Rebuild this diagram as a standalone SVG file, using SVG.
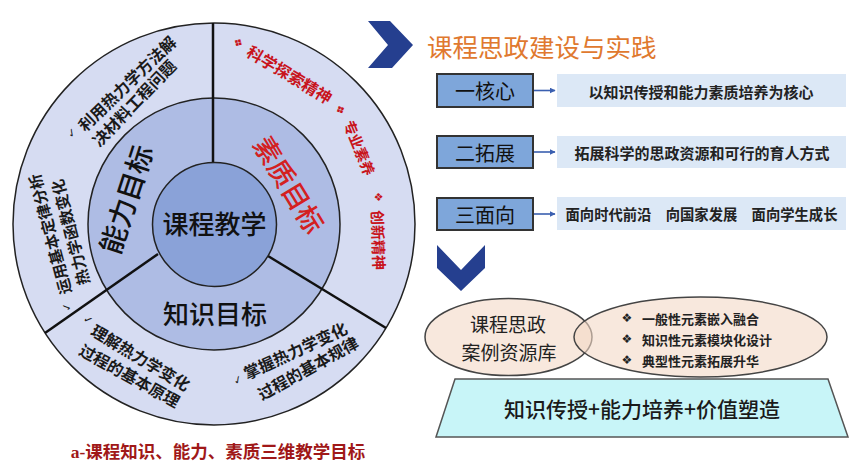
<svg xmlns="http://www.w3.org/2000/svg" width="866" height="473" viewBox="0 0 866 473">
<style>
.cjk{font-family:"Noto Sans CJK SC","Noto Sans",sans-serif;}
.big{font-size:27px;font-weight:500;fill:#111;text-anchor:middle;dominant-baseline:central;}
.ring{font-size:15.5px;font-weight:700;fill:#1a1a1a;text-anchor:middle;dominant-baseline:central;}
.red{font-size:15px;font-weight:700;fill:#c8141c;text-anchor:middle;dominant-baseline:central;}
.chk{font-family:"DejaVu Sans",sans-serif;font-size:11px;fill:#222;text-anchor:middle;dominant-baseline:central;}
.orn{font-family:"DejaVu Sans",sans-serif;font-size:11px;fill:#c8141c;text-anchor:middle;dominant-baseline:central;}
.lbox{fill:#7ea6da;stroke:#333;stroke-width:2;}
.rbox{fill:#dce8f6;}
.ltxt{font-size:20px;fill:#111;text-anchor:middle;dominant-baseline:central;}
.rtxt{font-size:15px;font-weight:700;fill:#222;text-anchor:middle;dominant-baseline:central;}
.ell{fill:#f4d8c6;fill-opacity:0.6;stroke:#444;stroke-width:1.5;}
.blt{font-size:13px;font-weight:700;fill:#222;dominant-baseline:central;}
.conn{stroke:#3a5fb0;stroke-width:1.6;fill:none;marker-end:url(#ah);}
</style>
<defs>
<marker id="ah" viewBox="0 0 10 10" refX="9" refY="5" markerWidth="6" markerHeight="6" orient="auto" markerUnits="userSpaceOnUse"><path d="M0,0 L10,5 L0,10 z" fill="#3a5fb0"/></marker>
</defs>
<rect width="866" height="473" fill="#ffffff"/>

<g id="goal-wheel">
<circle cx="214" cy="224" r="201" fill="#d6dcf2" stroke="#222" stroke-width="1.5"/>
<circle cx="214" cy="224" r="126" fill="#aebce4" stroke="#222" stroke-width="1.5"/>
<g id="dividers" stroke="#111" stroke-width="2.5">
<line x1="213" y1="23" x2="213" y2="163"/>
<line x1="158" y1="254" x2="45" y2="333"/>
<line x1="268" y1="256" x2="386" y2="328"/>
</g>
<circle cx="214.5" cy="224.5" r="62" fill="#8aa2d8" stroke="#222" stroke-width="1.5"/>
</g>

<g id="core"><text class="cjk big" x="214.5" y="222" style="font-size:26px">课程教学</text></g>
<g id="ability"><text class="cjk big" transform="translate(125,199) rotate(-72)" style="font-size:28px">能力目标</text></g>
<g id="quality"><text class="cjk big" transform="translate(290,184) rotate(58.6)" style="font-size:27px;fill:#d42020">素质目标</text></g>
<g id="knowledge"><text class="cjk big" x="215" y="312" style="font-size:26px">知识目标</text></g>

<g id="ability-items">
<text class="chk" transform="translate(72,133) rotate(-45)">✓</text>
<text class="cjk ring" transform="translate(126.5,83) rotate(-44)" style="font-size:16px">利用热力学方法解</text>
<text class="cjk ring" transform="translate(133.5,102.5) rotate(-46)" style="font-size:16px">决材料工程问题</text>
<text class="chk" transform="translate(67,307) rotate(-105)">✓</text>
<text class="cjk ring" transform="translate(49,234.5) rotate(-105)">运用基本定律分析</text>
<text class="cjk ring" transform="translate(69.5,232.5) rotate(-104.7)">热力学函数变化</text>
</g>

<g id="knowledge-items">
<text class="chk" transform="translate(88,320) rotate(30)">✓</text>
<text class="cjk ring" transform="translate(141,357) rotate(31)" style="font-size:16px">理解热力学变化</text>
<text class="cjk ring" transform="translate(130,375) rotate(29)" style="font-size:16px">过程的基本原理</text>
<text class="chk" transform="translate(238,380) rotate(-27)">✓</text>
<text class="cjk ring" transform="translate(295,350) rotate(-25)" style="font-size:16px">掌握热力学变化</text>
<text class="cjk ring" transform="translate(307.5,367.5) rotate(-29)" style="font-size:16px">过程的基本规律</text>
</g>

<g id="quality-items">
<text class="orn" transform="translate(238,43) rotate(31)">❖</text>
<text class="cjk red" transform="translate(290,74) rotate(31)" style="font-size:16px">科学探索精神</text>
<text class="orn" transform="translate(340,110) rotate(64)">❖</text>
<text class="cjk red" transform="translate(360,147.5) rotate(67.7)" style="font-size:14.5px">专业素养</text>
<text class="orn" transform="translate(378,197) rotate(86)">❖</text>
<text class="cjk red" transform="translate(379,240) rotate(88)">创新精神</text>
</g>

<g id="caption"><text x="218" y="452" text-anchor="middle" dominant-baseline="central" fill="#a01818" font-weight="700" font-size="17.5" font-family="'Liberation Serif','Noto Sans CJK SC',serif">a-课程知识、能力、素质三维教学目标</text></g>

<g id="chevron-right"><polygon points="368,21 390,21 413,45 392,68 368,68 388,45" fill="#253f8f"/></g>
<g id="title"><text class="cjk" x="427" y="45" dominant-baseline="central" font-size="25.5" fill="#e0792f">课程思政建设与实践</text></g>

<g id="node-core">
<rect class="lbox" x="437" y="74" width="96" height="33"/>
<text class="cjk ltxt" x="485" y="90.5">一核心</text>
</g>
<g id="desc-core">
<rect class="rbox" x="557" y="74" width="289" height="33"/>
<text class="cjk rtxt" x="701" y="91">以知识传授和能力素质培养为核心</text>
</g>
<g id="node-expand">
<rect class="lbox" x="437" y="136" width="96" height="32"/>
<text class="cjk ltxt" x="485" y="152">二拓展</text>
</g>
<g id="desc-expand">
<rect class="rbox" x="557" y="136" width="289" height="32"/>
<text class="cjk rtxt" x="702" y="152">拓展科学的思政资源和可行的育人方式</text>
</g>
<g id="node-face">
<rect class="lbox" x="437" y="198" width="96" height="32"/>
<text class="cjk ltxt" x="485" y="214">三面向</text>
</g>
<g id="desc-face">
<rect class="rbox" x="557" y="197" width="289" height="33"/>
<text class="cjk rtxt" x="701.5" y="213.5" xml:space="preserve" textLength="272" lengthAdjust="spacingAndGlyphs">面向时代前沿　向国家发展　面向学生成长</text>
</g>

<g id="connectors">
<line class="conn" x1="534" y1="90.5" x2="555" y2="90.5"/>
<line class="conn" x1="534" y1="152" x2="555" y2="152"/>
<line class="conn" x1="534" y1="214" x2="555" y2="214"/>
</g>

<g id="chevron-down"><polygon points="437,245 461,270 485,245 485,268 461,291 437,268" fill="#253f8f"/></g>

<g id="case-library">
<ellipse class="ell" cx="508.5" cy="337" rx="83.5" ry="38.5"/>
<text class="cjk" x="508" y="323" text-anchor="middle" dominant-baseline="central" font-size="19" fill="#222">课程思政</text>
<text class="cjk" x="509" y="351" text-anchor="middle" dominant-baseline="central" font-size="19" fill="#222">案例资源库</text>
</g>
<g id="elements">
<ellipse class="ell" cx="700.5" cy="337" rx="126.5" ry="40"/>
<text class="chk" x="627" y="318" style="font-size:12px">❖</text>
<text class="cjk blt" x="642" y="318">一般性元素嵌入融合</text>
<text class="chk" x="627" y="339" style="font-size:12px">❖</text>
<text class="cjk blt" x="642" y="339">知识性元素模块化设计</text>
<text class="chk" x="627" y="360" style="font-size:12px">❖</text>
<text class="cjk blt" x="642" y="360">典型性元素拓展升华</text>
</g>

<g id="base">
<polygon points="455,379 828,379 848,437 436,437" fill="#c8f5f8" stroke="#555" stroke-width="1.5"/>
<text class="cjk" x="642" y="408" text-anchor="middle" dominant-baseline="central" font-size="21" font-weight="500" fill="#1a1a1a">知识传授+能力培养+价值塑造</text>
</g>
</svg>
